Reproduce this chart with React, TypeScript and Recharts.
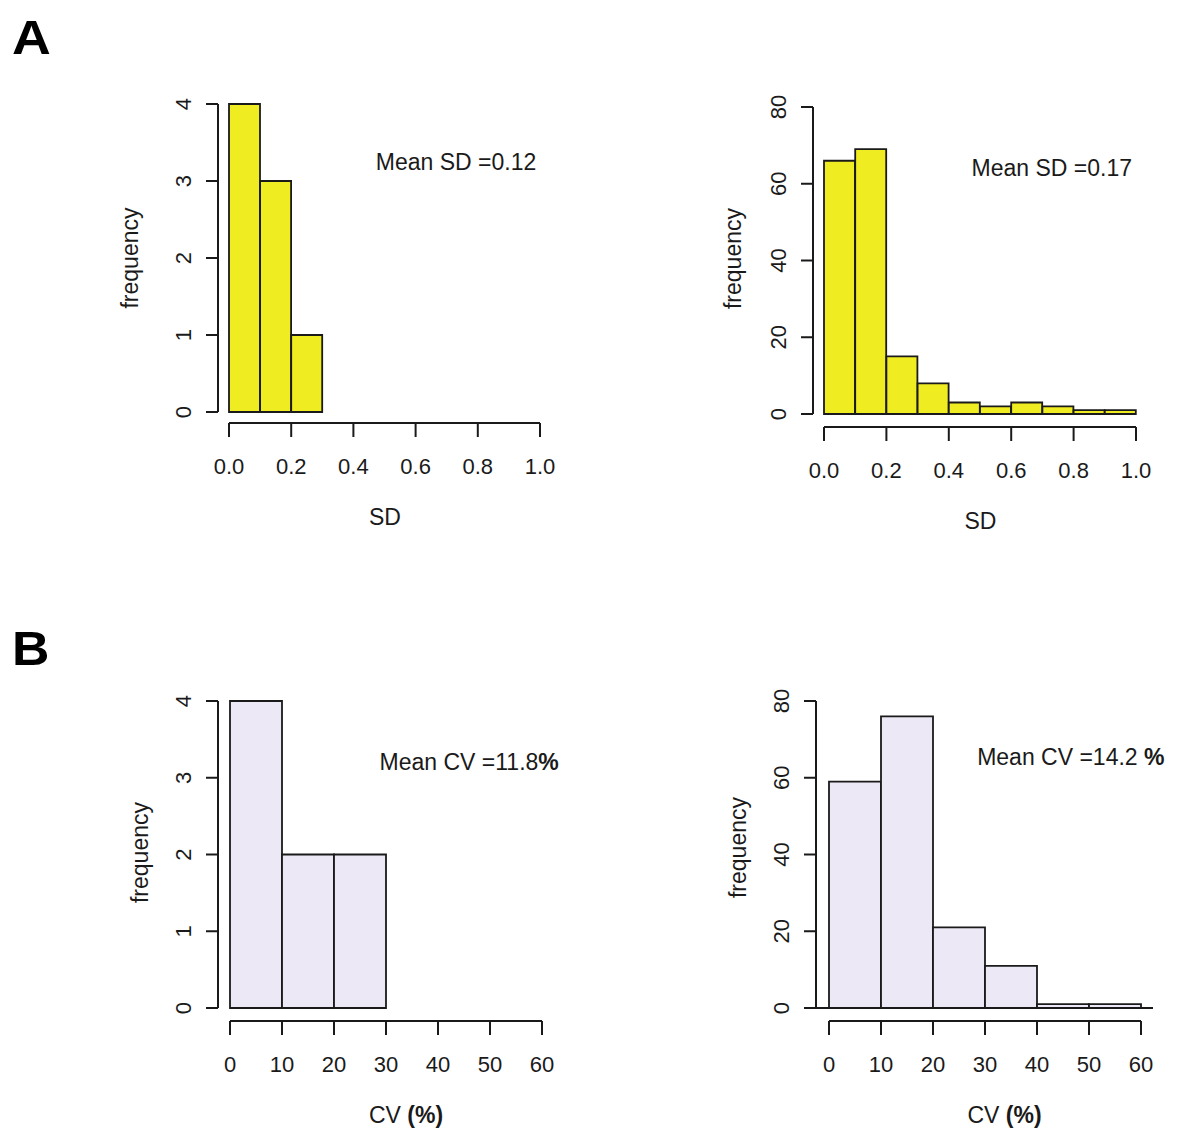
import React from "react";
import { ComposedChart, Bar, XAxis, YAxis, ReferenceDot, ReferenceLine, Label } from "recharts";

const FONT = "'Liberation Sans', Arial, Helvetica, sans-serif";
const INK = "#1a1a1a";
const YELLOW = "#F0EC22";
const LAVENDER = "#ECE8F5";

// A: standard deviation, bins of 0.1
const SD_BIN_START = [0, 0.1, 0.2, 0.3, 0.4, 0.5, 0.6, 0.7, 0.8, 0.9];
const SD_FREQ_LEFT = [4, 3, 1, 0, 0, 0, 0, 0, 0, 0];
const SD_FREQ_RIGHT = [66, 69, 15, 8, 3, 2, 3, 2, 1, 1];
const SD_TICKS = [0, 0.2, 0.4, 0.6, 0.8, 1.0];

// B: coefficient of variation, bins of 10 %
const CV_BIN_START = [0, 10, 20, 30, 40, 50];
const CV_FREQ_LEFT = [4, 2, 2, 0, 0, 0];
const CV_FREQ_RIGHT = [59, 76, 21, 11, 1, 1];
const CV_TICKS = [0, 10, 20, 30, 40, 50, 60];

const FREQ_TICKS_FEW = [0, 1, 2, 3, 4];
const FREQ_TICKS_MANY = [0, 20, 40, 60, 80];

// chart box + pixel layout of each panel (R-style detached axes)
const W = 600;
const H = 500;
const YW = 110;
const XH = 40;
const PAD_R = 12;
const LINE_W = 2;

type Geo = {
  left: number;
  top: number;
  axisX: number;
  x0: number;
  x1: number;
  yTop: number;
  y0: number;
  xAxisY: number;
  freqOffset: number;
  freqDy: number;
  titleDx: number;
};

const fmtSD = (v: number) => v.toFixed(1);
const fmtCV = (v: number) => String(Math.round(v));

const YTick = (p: any) => {
  const x = p.x - 15;
  return (
    <text x={x} y={p.y} transform={`rotate(-90 ${x} ${p.y})`} textAnchor="middle" fontSize={22} fill={INK} fontFamily={FONT}>
      {p.payload.value}
    </text>
  );
};

type HistProps = {
  geo: Geo;
  starts: number[];
  counts: number[];
  binWidth: number;
  xTicks: number[];
  yTicks: number[];
  fill: string;
  fmt: (v: number) => string;
  xTitle: React.ReactNode;
  note: React.ReactNode;
  noteAt: [number, number];
  baseline?: boolean;
};

const Histogram = ({ geo, starts, counts, binWidth, xTicks, yTicks, fill, fmt, xTitle, note, noteAt, baseline }: HistProps) => {
  const data = starts.map((s, i) => ({ bin: `${fmt(s)}-${fmt(s + binWidth)}`, start: s, count: counts[i] }));
  const plotH = geo.xAxisY - geo.yTop;
  const padB = geo.xAxisY - geo.y0;
  const padL = geo.x0 - geo.axisX;
  const margin = {
    top: geo.yTop - geo.top,
    left: geo.axisX - geo.left - YW,
    right: geo.left + W - (geo.x1 + PAD_R),
    bottom: geo.top + H - geo.xAxisY - XH,
  };

  const XTick = (p: any) => (
    <text x={p.x} y={p.y + 37} textAnchor="middle" fontSize={22} fill={INK} fontFamily={FONT}>
      {fmt(p.payload.value)}
    </text>
  );

  const xTitleContent = (p: any) => {
    const vb = p.viewBox;
    return (
      <text x={vb.x + vb.width / 2 + geo.titleDx} y={vb.y + 102} textAnchor="middle" fontSize={23} fill={INK} fontFamily={FONT}>
        {xTitle}
      </text>
    );
  };

  const yTitleContent = (p: any) => {
    const vb = p.viewBox;
    const cx = vb.x + vb.width - geo.freqOffset;
    const cy = vb.y + (vb.height - padB) / 2 + geo.freqDy;
    return (
      <text x={cx} y={cy} transform={`rotate(-90 ${cx} ${cy})`} textAnchor="middle" fontSize={23} fill={INK} fontFamily={FONT}>
        frequency
      </text>
    );
  };

  return (
    <div style={{ position: "absolute", left: geo.left, top: geo.top }}>
      <ComposedChart width={W} height={H} data={data} margin={margin} barCategoryGap={0} barGap={0}>
        <XAxis
          xAxisId="num"
          dataKey="start"
          type="number"
          domain={[xTicks[0], xTicks[xTicks.length - 1]]}
          ticks={xTicks}
          interval={0}
          allowDataOverflow
          height={XH}
          padding={{ left: padL, right: PAD_R }}
          axisLine={{ stroke: INK, strokeWidth: LINE_W, strokeDasharray: `0 ${padL} ${geo.x1 - geo.x0} 3000` }}
          tickLine={{ stroke: INK, strokeWidth: LINE_W }}
          tickSize={14}
          tickMargin={0}
          tick={XTick}
        >
          <Label content={xTitleContent} />
        </XAxis>
        <XAxis xAxisId="bins" dataKey="bin" hide height={0} padding={{ left: padL, right: PAD_R }} />
        <YAxis
          type="number"
          domain={[yTicks[0], yTicks[yTicks.length - 1]]}
          ticks={yTicks}
          interval={0}
          width={YW}
          padding={{ top: 0, bottom: padB }}
          axisLine={{ stroke: INK, strokeWidth: LINE_W, strokeDasharray: `${plotH - padB} 3000` }}
          tickLine={{ stroke: INK, strokeWidth: LINE_W }}
          tickSize={12}
          tickMargin={0}
          tick={YTick}
        >
          <Label content={yTitleContent} />
        </YAxis>
        <Bar xAxisId="bins" dataKey="count" fill={fill} stroke={INK} strokeWidth={1.8} isAnimationActive={false} />
        {baseline && <ReferenceLine xAxisId="num" y={0} stroke={INK} strokeWidth={1.8} ifOverflow="visible" />}
        <ReferenceDot
          xAxisId="num"
          x={noteAt[0]}
          y={noteAt[1]}
          r={0}
          ifOverflow="visible"
          shape={(p: any) => (
            <text x={p.cx} y={p.cy + 8} textAnchor="middle" fontSize={23} fill={INK} fontFamily={FONT}>
              {note}
            </text>
          )}
        />
      </ComposedChart>
    </div>
  );
};

const GEO_TL: Geo = { left: 0, top: 60, axisX: 218, x0: 229, x1: 540, yTop: 104, y0: 412, xAxisY: 423, freqOffset: 80, freqDy: 0, titleDx: 0 };
const GEO_TR: Geo = { left: 600, top: 60, axisX: 813, x0: 824, x1: 1136, yTop: 107, y0: 414, xAxisY: 427, freqOffset: 72, freqDy: -2, titleDx: 0 };
const GEO_BL: Geo = { left: 0, top: 640, axisX: 218, x0: 230, x1: 542, yTop: 701, y0: 1008, xAxisY: 1021, freqOffset: 70, freqDy: -2, titleDx: 20 };
const GEO_BR: Geo = { left: 600, top: 640, axisX: 816, x0: 829, x1: 1141, yTop: 701, y0: 1008, xAxisY: 1021, freqOffset: 70, freqDy: -7, titleDx: 20 };

const cvTitle = (
  <>
    CV <tspan fontWeight="bold">(%)</tspan>
  </>
);

export default function App() {
  return (
    <div style={{ position: "absolute", left: 0, top: 0, width: 1200, height: 1141, background: "#fff", fontFamily: FONT }}>
      <svg width={1200} height={1141} style={{ position: "absolute", left: 0, top: 0 }}>
        <text x={12} y={54} fontSize={48} fontWeight="bold" fill="#000" fontFamily={FONT} transform="translate(12 0) scale(1.12 1) translate(-12 0)">A</text>
        <text x={12} y={665} fontSize={48} fontWeight="bold" fill="#000" fontFamily={FONT} transform="translate(12 0) scale(1.08 1) translate(-12 0)">B</text>
      </svg>
      <Histogram
        geo={GEO_TL}
        starts={SD_BIN_START}
        counts={SD_FREQ_LEFT}
        binWidth={0.1}
        xTicks={SD_TICKS}
        yTicks={FREQ_TICKS_FEW}
        fill={YELLOW}
        fmt={fmtSD}
        xTitle="SD"
        note="Mean SD =0.12"
        noteAt={[0.73, 3.25]}
      />
      <Histogram
        geo={GEO_TR}
        starts={SD_BIN_START}
        counts={SD_FREQ_RIGHT}
        binWidth={0.1}
        xTicks={SD_TICKS}
        yTicks={FREQ_TICKS_MANY}
        fill={YELLOW}
        fmt={fmtSD}
        xTitle="SD"
        note="Mean SD =0.17"
        noteAt={[0.73, 64]}
      />
      <Histogram
        geo={GEO_BL}
        starts={CV_BIN_START}
        counts={CV_FREQ_LEFT}
        binWidth={10}
        xTicks={CV_TICKS}
        yTicks={FREQ_TICKS_FEW}
        fill={LAVENDER}
        fmt={fmtCV}
        xTitle={cvTitle}
        note={<>Mean CV =11.8<tspan fontWeight="bold">%</tspan></>}
        noteAt={[46, 3.2]}
      />
      <Histogram
        geo={GEO_BR}
        starts={CV_BIN_START}
        counts={CV_FREQ_RIGHT}
        binWidth={10}
        xTicks={CV_TICKS}
        yTicks={FREQ_TICKS_MANY}
        fill={LAVENDER}
        fmt={fmtCV}
        xTitle={cvTitle}
        note={<>Mean CV =14.2 <tspan fontWeight="bold">%</tspan></>}
        noteAt={[46.5, 65.5]}
        baseline
      />
    </div>
  );
}
